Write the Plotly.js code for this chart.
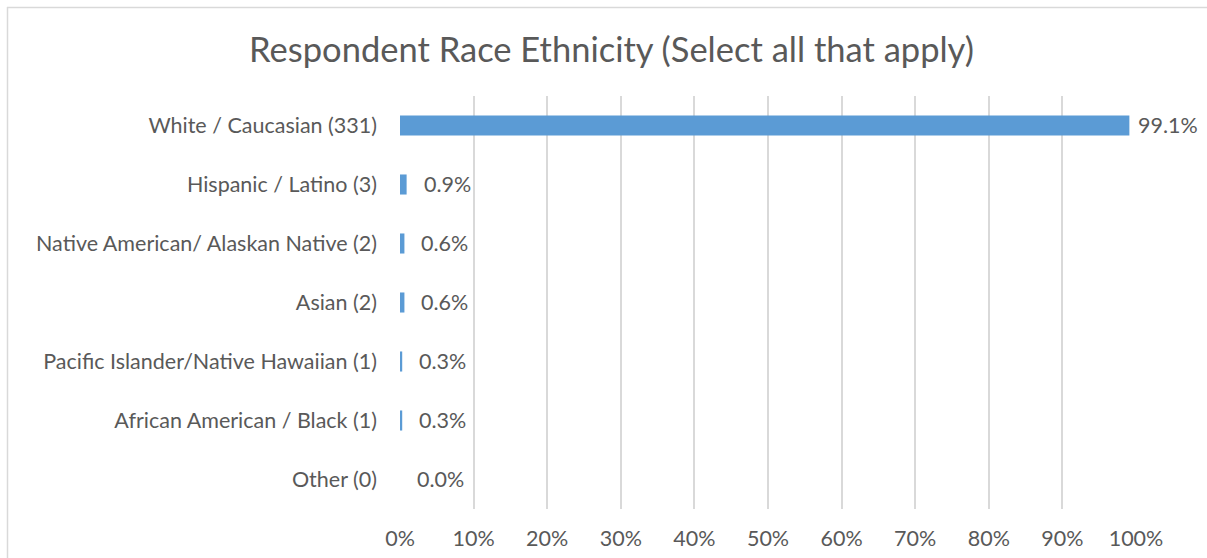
<!DOCTYPE html>
<html>
<head>
<meta charset="utf-8">
<script src="https://cdn.plot.ly/plotly-3.0.1.min.js"></script>
<style>
html,body{margin:0;padding:0;background:#fff;}
#chart{width:1207px;height:558px;}
</style>
</head>
<body>
<div id="chart"></div>
<script>
const categories = [
  "White / Caucasian (331)",
  "Hispanic / Latino (3)",
  "Native American/ Alaskan Native (2)",
  "Asian (2)",
  "Pacific Islander/Native Hawaiian (1)",
  "African American / Black (1)",
  "Other (0)"
];
const percents = [99.1, 0.9, 0.6, 0.6, 0.3, 0.3, 0.0];
const xTickVals = [0,10,20,30,40,50,60,70,80,90,100];
const xTickText = ["0%","10%","20%","30%","40%","50%","60%","70%","80%","90%","100%"];

const FONT = "Lato, 'Open Sans', sans-serif";
const TXT = "#595959";
const FS = 21.5;

const W = 1207, H = 558;
const mL = 400, mR = 71, mT = 96, mB = 49;
const pw = W - mL - mR, ph = H - mT - mB;
function px2paperX(p){ return (p - mL) / pw; }
function px2paperY(p){ return (H - mB - p) / ph; }

const trace = {
  type: "bar",
  orientation: "h",
  y: categories,
  x: percents,
  marker: {color: "#5b9bd5"},
  width: 0.34,
  hoverinfo: "none"
};

const labelAnnotations = percents.map((v, i) => ({
  x: v, y: categories[i], xref: "x", yref: "y",
  text: v.toFixed(1) + "%",
  showarrow: false,
  xanchor: "left", yanchor: "middle",
  xshift: v > 50 ? 7 : 15,
  yshift: 1,
  font: {family: FONT, size: FS, color: TXT}
}));

const layout = {
  width: W, height: H,
  margin: {l: mL, r: mR, t: mT, b: mB, pad: 0},
  paper_bgcolor: "#ffffff",
  plot_bgcolor: "#ffffff",
  showlegend: false,
  title: {
    text: "Respondent Race Ethnicity (Select all that apply)",
    font: {family: FONT, size: 34.5, color: TXT},
    x: 611.5 / W, xref: "container", xanchor: "center",
    y: 1 - 50/H, yref: "container", yanchor: "middle"
  },
  xaxis: {
    range: [0, 100],
    tickvals: xTickVals,
    ticktext: xTickText,
    showgrid: true,
    gridcolor: "#d9d9d9",
    gridwidth: 2,
    zeroline: false,
    showline: false,
    ticks: "",
    ticklabelstandoff: 14,
    tickfont: {family: FONT, size: FS, color: TXT},
    fixedrange: true
  },
  yaxis: {
    type: "category",
    autorange: "reversed",
    showgrid: false,
    zeroline: false,
    showline: false,
    ticks: "",
    ticklabelstandoff: 22,
    tickfont: {family: FONT, size: FS, color: TXT},
    fixedrange: true
  },
  annotations: labelAnnotations,
  shapes: [
    {type: "line", xref: "paper", yref: "paper",
     x0: px2paperX(7), x1: px2paperX(1207), y0: px2paperY(7.5), y1: px2paperY(7.5),
     line: {color: "#d9d9d9", width: 1.5}},
    {type: "line", xref: "paper", yref: "paper",
     x0: px2paperX(7.5), x1: px2paperX(7.5), y0: px2paperY(7), y1: px2paperY(558),
     line: {color: "#d9d9d9", width: 1.5}}
  ]
};

Plotly.newPlot("chart", [trace], layout, {displayModeBar: false, staticPlot: true});
</script>
</body>
</html>
